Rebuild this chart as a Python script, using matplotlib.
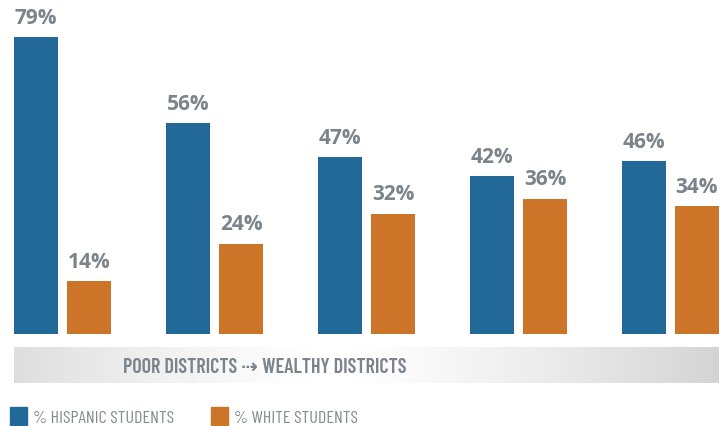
import numpy as np
from matplotlib import pyplot as plt
from matplotlib.patches import Patch

groups = ['1', '2', '3', '4', '5']
hispanic = [79, 56, 47, 42, 46]
white = [14, 24, 32, 36, 34]
series_names = ['% HISPANIC STUDENTS', '% WHITE STUDENTS']
band_text = 'POOR DISTRICTS \u21e2 WEALTHY DISTRICTS'

blue = '#226899'
orange = '#cc7528'
gray = '#7c838a'
cond = ['Barlow Condensed', 'DejaVu Sans']

W, H = 726, 426
fig = plt.figure(figsize=(W / 100, H / 100), dpi=100)

# bars axes: bottom edge sits on the bar baseline
base = 334
ax = fig.add_axes([0, (H - base) / H, 1, base / H])
x = np.arange(len(groups))
step = 152.0
off = 26.5 / step
width = 44 / step
b1 = ax.bar(x - off, hispanic, width, color=blue)
b2 = ax.bar(x + off, white, width, color=orange)
ax.set_xlim(-62.5 / step, (W - 62.5) / step)
ax.set_ylim(0, base / (297 / 79))
ax.axis('off')

for bars, vals in ((b1, hispanic), (b2, white)):
    for b, v in zip(bars, vals):
        ax.annotate('%d%%' % v, (b.get_x() + b.get_width() / 2, v),
                    xytext=(0, 6), textcoords='offset points',
                    ha='center', va='bottom', color=gray,
                    fontsize=15, fontweight='bold', family='Open Sans')

# gradient band
bx = fig.add_axes([14 / W, (H - 383) / H, (719 - 14) / W, 36 / H])
t = np.linspace(0, 1, 400)
shade = 1 - 0.17 * np.clip(np.abs(t - 0.45) / 0.55, 0, 1) ** 1.3
img = np.tile(shade, (2, 1))
bx.imshow(img, cmap='gray', vmin=0, vmax=1, aspect='auto',
          extent=(0, 1, 0, 1))
bx.set_xlim(0, 1)
bx.set_ylim(0, 1)
bx.axis('off')
bx.text(0.356, 0.43, band_text, ha='center', va='center', color=gray,
        fontsize=14.5, fontweight='semibold', family=cond)

handles = [Patch(color=blue), Patch(color=orange)]
leg = fig.legend(handles, series_names, loc='lower left',
                 bbox_to_anchor=(10 / W, -2 / H), ncol=2, frameon=False,
                 borderpad=0, borderaxespad=0,
                 handlelength=0.94, handleheight=1.45, handletextpad=0.33,
                 columnspacing=2.05,
                 prop={'family': cond, 'size': 13})
for txt in leg.get_texts():
    txt.set_color('#858b91')

fig.savefig('out.png', dpi=100)
